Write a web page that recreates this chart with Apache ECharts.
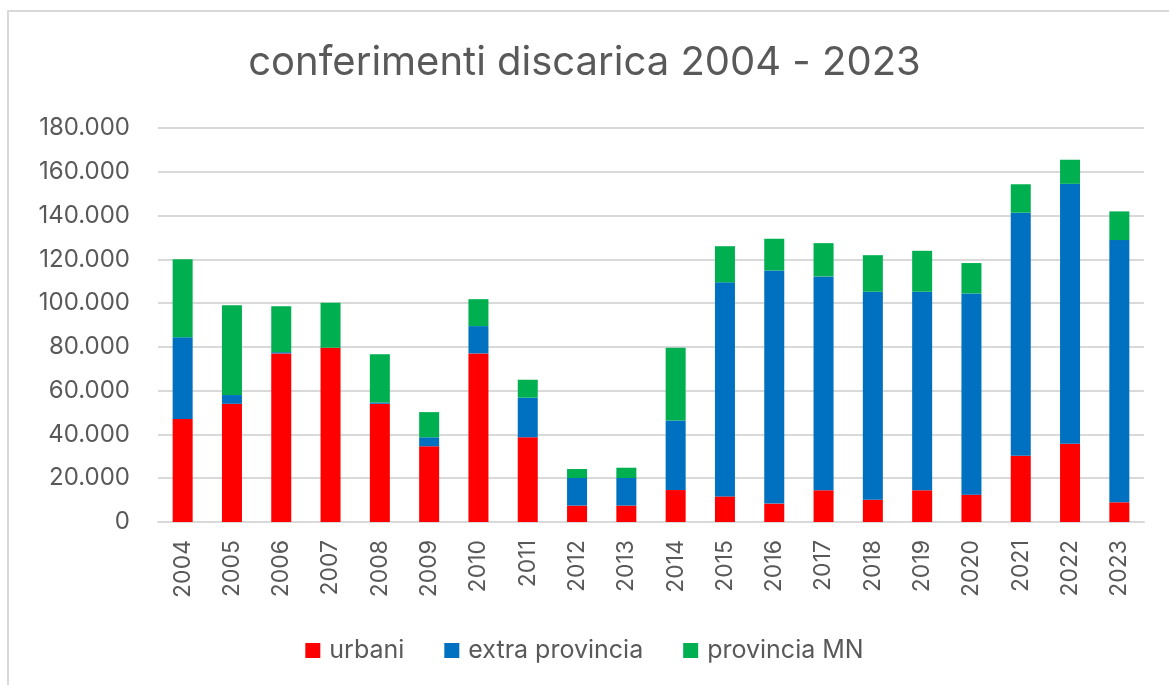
<!DOCTYPE html>
<html>
<head>
<meta charset="utf-8">
<script src="https://cdn.jsdelivr.net/npm/echarts@6/dist/echarts.min.js"></script>
<style>
  html, body { margin: 0; padding: 0; background: #fff; }
  #chart { width: 1169px; height: 685px; }
</style>
</head>
<body>
<div id="chart"></div>
<script>
var years = ['2004','2005','2006','2007','2008','2009','2010','2011','2012','2013',
             '2014','2015','2016','2017','2018','2019','2020','2021','2022','2023'];
// valori in tonnellate
var urbani = [47000, 54000, 77000, 79600, 54000, 34600, 77000, 38700, 7500, 7500,
              14600, 11700, 8400, 14500, 10200, 14500, 12500, 30300, 35800, 9000];
var extraProvincia = [37400, 4000, 600, 0, 600, 4100, 12500, 18100, 12600, 12600,
                      31800, 97800, 106500, 97700, 95000, 90700, 91900, 111000, 118700, 119800];
var provinciaMN = [35600, 41000, 21000, 20600, 22000, 11500, 12300, 8200, 4100, 4700,
                   33200, 16500, 14500, 15200, 16700, 18700, 13900, 13000, 11000, 13100];

var chart = echarts.init(document.getElementById('chart'));

function fmt(v) {
  return String(v).replace(/\B(?=(\d{3})+(?!\d))/g, '.');
}

var font = 'Inter, "Noto Sans", sans-serif';

var option = {
  backgroundColor: '#fff',
  animation: false,
  textStyle: { fontFamily: font },
  title: {
    text: 'conferimenti discarica 2004 - 2023',
    left: 'center',
    top: 38,
    textStyle: { fontSize: 40, fontWeight: 'normal', color: '#595959', fontFamily: font }
  },
  graphic: [{
    type: 'rect',
    shape: { x: 8, y: 11, width: 1175, height: 690 },
    style: { fill: 'none', stroke: '#d9d9d9', lineWidth: 2 },
    silent: true
  }],
  legend: {
    top: 633,
    left: 'center',
    itemWidth: 15,
    itemHeight: 15,
    itemGap: 40,
    icon: 'rect',
    textStyle: { fontSize: 25, color: '#595959', fontFamily: font, padding: [0, 0, 0, 4] },
    data: ['urbani', 'extra provincia', 'provincia MN']
  },
  grid: { left: 158, right: 25, top: 128, bottom: 163 },
  xAxis: {
    type: 'category',
    data: years,
    axisLine: { lineStyle: { color: '#d9d9d9', width: 2 } },
    axisTick: { show: false },
    axisLabel: { rotate: 90, fontSize: 23, color: '#595959', margin: 18, fontFamily: font }
  },
  yAxis: {
    type: 'value',
    min: 0,
    max: 180000,
    interval: 20000,
    axisLine: { show: false },
    axisTick: { show: false },
    splitLine: { lineStyle: { color: '#d9d9d9', width: 2 } },
    axisLabel: { fontSize: 24, color: '#595959', margin: 28, fontFamily: font, formatter: fmt }
  },
  series: [
    { name: 'urbani', type: 'bar', stack: 'tot', barWidth: 20, data: urbani,
      itemStyle: { color: '#ff0000' } },
    { name: 'extra provincia', type: 'bar', stack: 'tot', barWidth: 20, data: extraProvincia,
      itemStyle: { color: '#0070c0' } },
    { name: 'provincia MN', type: 'bar', stack: 'tot', barWidth: 20, data: provinciaMN,
      itemStyle: { color: '#00b050' } }
  ]
};

chart.setOption(option);
</script>
</body>
</html>
